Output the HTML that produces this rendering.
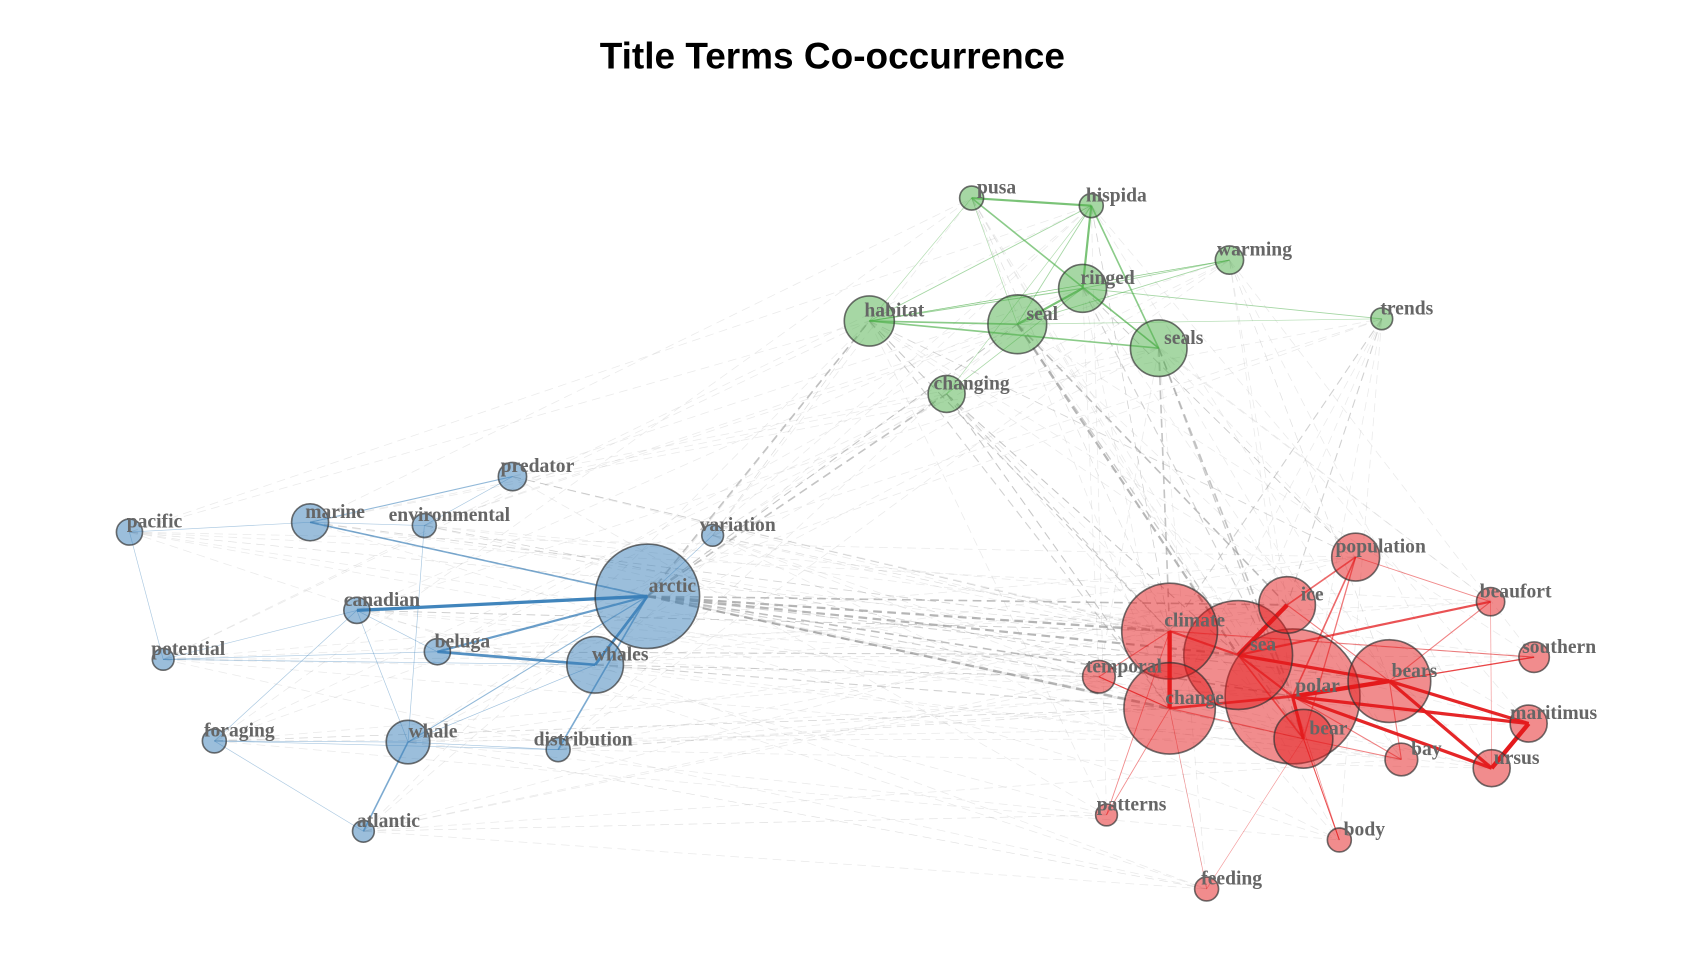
<!DOCTYPE html>
<html><head><meta charset="utf-8"><style>
html,body{margin:0;padding:0;background:#fff;}
svg{display:block;}
</style></head><body>
<svg id="chart" width="1706" height="976" viewBox="0 0 1568 897" xmlns="http://www.w3.org/2000/svg">
<rect width="1568" height="897" fill="#fff"/>
<text x="765" y="63" text-anchor="middle" font-family="Liberation Sans, sans-serif" font-weight="bold" font-size="34" fill="#000">Title Terms Co-occurrence</text>
<g id="edges-grey"></g>
<g id="edges-col"></g>
<g id="nodes"></g>
<g id="labels"></g>
</svg>
<script>
// node data: name, x, y (layout), size, cluster
const nodeNames = ["arctic","whales","marine","predator","environmental","pacific","variation","canadian","beluga","potential","foraging","whale","distribution","atlantic",
"pusa","hispida","warming","ringed","trends","habitat","seal","seals","changing",
"population","ice","climate","sea","temporal","polar","bears","change","beaufort","southern","maritimus","bear","bay","ursus","patterns","body","feeding"];
const nodeX = [595,547,285,471,390,119,655,328,402,150,197,375,513,334, 893,1003,1130,995,1270,799,935,1065,870, 1246,1183,1075,1138,1010,1188,1277,1075,1370,1410,1405,1198,1288,1371,1017,1231,1109];
const nodeY = [548,611,480,438,483,489,492,561,599,606,681,682,689,764, 182,189,239,265,293,295,298,320,362, 512,556,580,602,622,640,626,651,553,604,665,679,698,706,749,772,817];
const nodeSize = [48,26,17,13,11,12,10,12,12,10,11,20,11,10, 11,11,13,22,10,23,27,26,17, 22,26,44,50,15,62,38,42,13,14,17,27,15,17,10,11,11];
const nodeCluster = [0,0,0,0,0,0,0,0,0,0,0,0,0,0, 1,1,1,1,1,1,1,1,1, 2,2,2,2,2,2,2,2,2,2,2,2,2,2,2,2,2];
// edges: source, target, weight
const edgeSrc = ["arctic","arctic","arctic","arctic","arctic","arctic","beluga","whale","marine","canadian","canadian","whale","whale","beluga","environmental","pacific","potential","foraging","foraging","canadian","predator","marine","whales","variation","potential","pacific",
"pusa","pusa","hispida","hispida","ringed","habitat","habitat","habitat","ringed","ringed","seal","pusa","pusa","hispida","hispida","changing","changing","seal","warming","seals","habitat",
"polar","climate","sea","polar","ursus","bears","bears","polar","polar","sea","sea","sea","population","population","population","ice","change","change","climate","bear","bear","beaufort","southern","southern","temporal","patterns","patterns","body","body","feeding","feeding","bay","bay","bears","sea","climate","change","population","beaufort",
"arctic","arctic","arctic","arctic","arctic","arctic","arctic","arctic","arctic","seal","seal","seals","seals","habitat","habitat","ringed","trends","trends","changing","changing","whales","whales","marine","canadian","beluga","distribution","whale","atlantic","pacific","predator","environmental","variation","variation","hispida","warming","pusa","seal","seals","habitat","foraging","potential","arctic","arctic","changing","ringed"];
const edgeTgt = ["canadian","whales","beluga","marine","distribution","whale","whales","atlantic","predator","whale","foraging","foraging","distribution","potential","whale","potential","whales","distribution","atlantic","beluga","environmental","environmental","whale","arctic","canadian","marine",
"hispida","seals","ringed","seals","seal","seal","seals","ringed","warming","trends","warming","habitat","seal","habitat","seal","ringed","hispida","trends","habitat","ringed","warming",
"bears","change","ice","bear","maritimus","maritimus","ursus","maritimus","ursus","bears","beaufort","polar","ice","polar","bear","bears","polar","temporal","sea","body","bay","bears","climate","bears","change","climate","change","bear","polar","change","bear","polar","bears","southern","bear","temporal","bear","beaufort","ursus",
"climate","change","sea","polar","ice","bears","habitat","seal","changing","sea","ice","climate","polar","climate","change","polar","climate","ice","change","sea","change","temporal","climate","climate","sea","change","feeding","patterns","climate","climate","polar","climate","habitat","climate","bears","climate","bear","bear","population","change","sea","temporal","bear","climate","population"];
const edgeW = [3,2.5,2,1.5,1.5,1,2.5,1.5,1,0.5,0.5,0.6,0.6,0.4,0.5,0.4,0.4,0.4,0.4,0.5,0.4,0.4,0.6,0.6,0.3,0.3,
2,1.5,2,1.5,2,1.5,1.5,1,0.8,0.8,0.8,0.5,0.5,0.8,0.8,0.7,0.5,0.4,0.5,0.5,0.5,
4,4,4,3,4,3,3,3,3,3,2,2,1.5,1.5,1.2,1,2.5,1,2,1,1,1,1,1,1,0.8,0.8,0.8,0.6,0.6,0.5,1,1,1.2,1.5,1,1,0.8,0.6,
2,2,2,1.5,1.5,1,1.5,1,1.5,2,1.5,1.5,1.5,1,1,1,1,1,1,1,1,0.8,0.8,0.8,0.8,0.6,0.4,0.4,0.5,0.5,0.5,0.6,0.6,0.6,0.5,0.5,1.2,1.2,0.8,0.3,0.3,1,1,1,0.8];

const clusterNode = ["#377EB8","#4DAF4A","#E41A1C"];
const clusterEdge = ["#377EB8","#4DAF4A","#E41A1C"];
const svgNS = "http://www.w3.org/2000/svg";
function idx(n){return nodeNames.indexOf(n);}
function xPos(i){return nodeX[i];}
function yPos(i){return nodeY[i];}
const gG = document.getElementById('edges-grey');
const gC = document.getElementById('edges-col');
for(let k=0;k<edgeSrc.length;k++){
  const a=idx(edgeSrc[k]), b=idx(edgeTgt[k]);
  if(a<0||b<0) continue;
  const same = nodeCluster[a]===nodeCluster[b];
  const l=document.createElementNS(svgNS,'line');
  l.setAttribute('x1',xPos(a));l.setAttribute('y1',yPos(a));
  l.setAttribute('x2',xPos(b));l.setAttribute('y2',yPos(b));
  const w=edgeW[k];
  if(same){
    l.setAttribute('stroke',clusterEdge[nodeCluster[a]]);
    l.setAttribute('stroke-width',Math.max(0.6,w));
    l.setAttribute('stroke-opacity',Math.min(1,0.35+w*0.2));
    
    
    gC.appendChild(l);
  } else {
    l.setAttribute('stroke','#999');
    l.setAttribute('stroke-width',Math.max(0.6,w));
    l.setAttribute('stroke-opacity',Math.min(0.8,0.2+w*0.25));
    l.setAttribute('stroke-dasharray','8,5');
    
    
    gG.appendChild(l);
  }
}
// faint background edges between some inter-cluster pairs
for(let a=0;a<nodeNames.length;a++){
  for(let b=a+1;b<nodeNames.length;b++){
    if(nodeCluster[a]===nodeCluster[b]) continue;
    if((a*7+b*3)%4!==0) continue;
    const l=document.createElementNS(svgNS,'line');
    l.setAttribute('x1',xPos(a));l.setAttribute('y1',yPos(a));
    l.setAttribute('x2',xPos(b));l.setAttribute('y2',yPos(b));
    l.setAttribute('stroke','#bbb');l.setAttribute('stroke-width','0.7');
    l.setAttribute('stroke-opacity','0.3');l.setAttribute('stroke-dasharray','8,5');
    
    
    gG.insertBefore(l,gG.firstChild);
  }
}
const gN=document.getElementById('nodes'), gL=document.getElementById('labels');
const order=nodeNames.map((n,i)=>i).sort((p,q)=>nodeSize[q]-nodeSize[p]);
for(const i of order){
  const c=document.createElementNS(svgNS,'circle');
  c.setAttribute('cx',xPos(i));c.setAttribute('cy',yPos(i));c.setAttribute('r',nodeSize[i]);
  c.setAttribute('fill',clusterNode[nodeCluster[i]]);c.setAttribute('fill-opacity','0.5');
  c.setAttribute('stroke','#333');c.setAttribute('stroke-opacity','0.7');c.setAttribute('stroke-width','1.5');
  
  
  gN.appendChild(c);
}
for(let i=0;i<nodeNames.length;i++){
  const t=document.createElementNS(svgNS,'text');
  t.setAttribute('x',xPos(i)+23);t.setAttribute('y',yPos(i)-4);
  t.setAttribute('text-anchor','middle');
  t.setAttribute('font-family','Liberation Serif, serif');
  t.setAttribute('font-weight','bold');t.setAttribute('font-size','18');
  t.setAttribute('fill','#666');
  t.textContent=nodeNames[i];
  
  
  gL.appendChild(t);
}
</script>
</body></html>
